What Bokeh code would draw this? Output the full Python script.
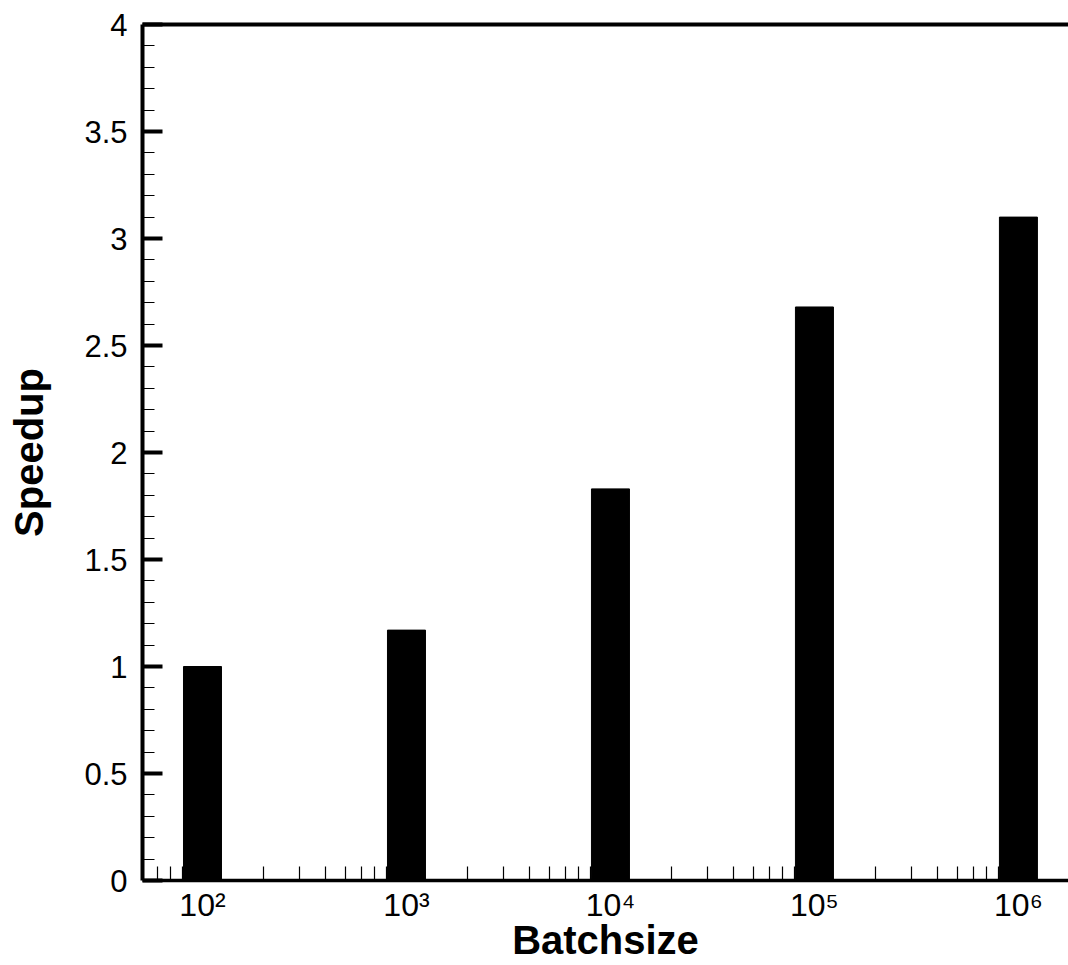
import numpy as np
from bokeh.plotting import figure
from bokeh.models import FixedTicker, LinearAxis, ColumnDataSource, Range1d
from bokeh.embed import file_html
from bokeh.resources import INLINE

batch = [1e2, 1e3, 1e4, 1e5, 1e6]
speedup = [1.0, 1.17, 1.83, 2.68, 3.10]
x_tick_labels = ["10\u00b2", "10\u00b3", "10\u2074", "10\u2075", "10\u2076"]
y_ticks = [0, 0.5, 1, 1.5, 2, 2.5, 3, 3.5, 4]
y_tick_labels = ["0", "0.5", "1", "1.5", "2", "2.5", "3", "3.5", "4"]

FONT = "Liberation Sans"
half = 10 ** (19 / 204)  # half bar width factor in log space

src = ColumnDataSource(dict(
    left=[b / half for b in batch],
    right=[b * half for b in batch],
    top=speedup,
    bottom=[0] * len(batch),
))

p = figure(width=1068, height=965, x_axis_type="log",
           x_range=Range1d(50.8, 1.76e6), y_range=Range1d(0, 4),
           output_backend="svg", toolbar_location=None,
           min_border_left=142, min_border_right=0,
           min_border_top=24, min_border_bottom=85)
p.background_fill_color = "white"
p.border_fill_color = "white"
p.outline_line_color = None
p.grid.visible = False

p.quad(left="left", right="right", top="top", bottom="bottom", source=src,
       fill_color="black", line_color="black", line_width=1)

# x axis
minor_x = []
for d in range(1, 7):
    for m in range(2, 10):
        v = m * 10 ** d
        if 50.8 < v < 1.76e6:
            minor_x.append(v)
xa = p.xaxis[0]
xa.ticker = FixedTicker(ticks=batch, minor_ticks=minor_x)
xa.major_label_overrides = {b: l for b, l in zip(batch, x_tick_labels)}
xa.axis_line_width = 3.5
xa.axis_line_color = "black"
xa.major_tick_in = 20
xa.major_tick_out = 0
xa.major_tick_line_width = 3
xa.minor_tick_in = 14
xa.minor_tick_out = 0
xa.minor_tick_line_width = 1.2
xa.major_label_text_font = FONT
xa.major_label_text_font_size = "32px"
xa.major_label_text_color = "black"
xa.major_label_standoff = 6
xa.axis_label = "Batchsize"
xa.axis_label_text_font = FONT
xa.axis_label_text_font_style = "bold"
xa.axis_label_text_font_size = "40px"
xa.axis_label_text_color = "black"
xa.axis_label_standoff = -8

# y axis
minor_y = [round(v, 2) for v in np.arange(0, 4.001, 0.1) if round(v * 10) % 5 != 0]
ya = p.yaxis[0]
ya.ticker = FixedTicker(ticks=y_ticks, minor_ticks=minor_y)
ya.major_label_overrides = {t: l for t, l in zip(y_ticks, y_tick_labels)}
ya.axis_line_width = 4
ya.axis_line_color = "black"
ya.major_tick_in = 20
ya.major_tick_out = 0
ya.major_tick_line_width = 4
ya.minor_tick_in = 12
ya.minor_tick_out = 0
ya.minor_tick_line_width = 1.2
ya.major_label_text_font = FONT
ya.major_label_text_font_size = "31px"
ya.major_label_text_color = "black"
ya.major_label_standoff = 15
ya.axis_label = "Speedup"
ya.axis_label_text_font = FONT
ya.axis_label_text_font_style = "bold"
ya.axis_label_text_font_size = "40px"
ya.axis_label_text_color = "black"
ya.axis_label_standoff = 30

# top frame line
top = LinearAxis(ticker=FixedTicker(ticks=[]), axis_line_width=4, axis_line_color="black",
                 major_tick_in=0, major_tick_out=0, minor_tick_in=0, minor_tick_out=0,
                 major_label_text_font_size="0px", major_label_standoff=0)
p.add_layout(top, "above")

open("out.html", "w").write(file_html(p, INLINE))
